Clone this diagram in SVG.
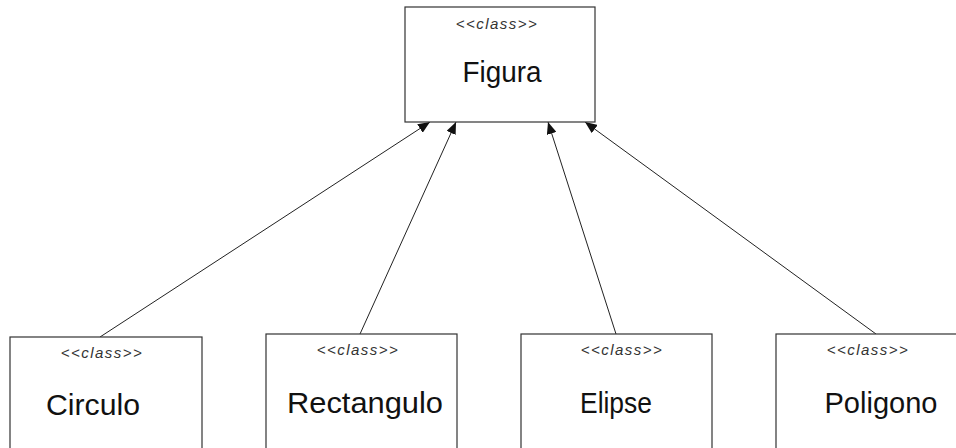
<svg xmlns="http://www.w3.org/2000/svg" width="956" height="448" viewBox="0 0 956 448">
<defs>
<style>
.box{fill:#fff;stroke:#333;stroke-width:1.2}
.st{font-family:"Liberation Sans",Arial,sans-serif;font-style:italic;font-size:15px;letter-spacing:1.5px;fill:#333;text-anchor:middle}
.nm{font-family:"Liberation Sans",Arial,sans-serif;font-size:29px;fill:#111;text-anchor:middle}
.ln{stroke:#222;stroke-width:1;fill:none;marker-end:url(#arr)}
</style>
<marker id="arr" viewBox="0 0 12 10" refX="12" refY="5" markerWidth="12" markerHeight="10" markerUnits="userSpaceOnUse" orient="auto">
<path d="M0,0 L12,5 L0,10 Z" fill="#111"/>
</marker>
</defs>
<rect width="956" height="448" fill="#fff"/>
<g id="connectors">
<line class="ln" x1="100" y1="337" x2="430" y2="122"/>
<line class="ln" x1="360" y1="334" x2="456" y2="122"/>
<line class="ln" x1="616" y1="334" x2="548" y2="122"/>
<line class="ln" x1="876" y1="334" x2="585" y2="122"/>
</g>
<g id="figura">
<rect class="box" x="405" y="7" width="190" height="115"/>
<text class="st" x="497" y="29">&lt;&lt;class&gt;&gt;</text>
<text class="nm" x="502" y="82" textLength="79" lengthAdjust="spacingAndGlyphs">Figura</text>
</g>
<g id="circulo">
<rect class="box" x="10" y="337" width="192" height="130"/>
<text class="st" x="102" y="358">&lt;&lt;class&gt;&gt;</text>
<text class="nm" x="93" y="415" textLength="94" lengthAdjust="spacingAndGlyphs">Circulo</text>
</g>
<g id="rectangulo">
<rect class="box" x="266" y="334" width="191" height="130"/>
<text class="st" x="358" y="355">&lt;&lt;class&gt;&gt;</text>
<text class="nm" x="365" y="413" textLength="156" lengthAdjust="spacingAndGlyphs">Rectangulo</text>
</g>
<g id="elipse">
<rect class="box" x="521" y="334" width="191" height="130"/>
<text class="st" x="622" y="355">&lt;&lt;class&gt;&gt;</text>
<text class="nm" x="616" y="413" textLength="72" lengthAdjust="spacingAndGlyphs">Elipse</text>
</g>
<g id="poligono">
<rect class="box" x="776" y="334" width="191" height="130"/>
<text class="st" x="868" y="355">&lt;&lt;class&gt;&gt;</text>
<text class="nm" x="881" y="413" textLength="113" lengthAdjust="spacingAndGlyphs">Poligono</text>
</g>
</svg>
